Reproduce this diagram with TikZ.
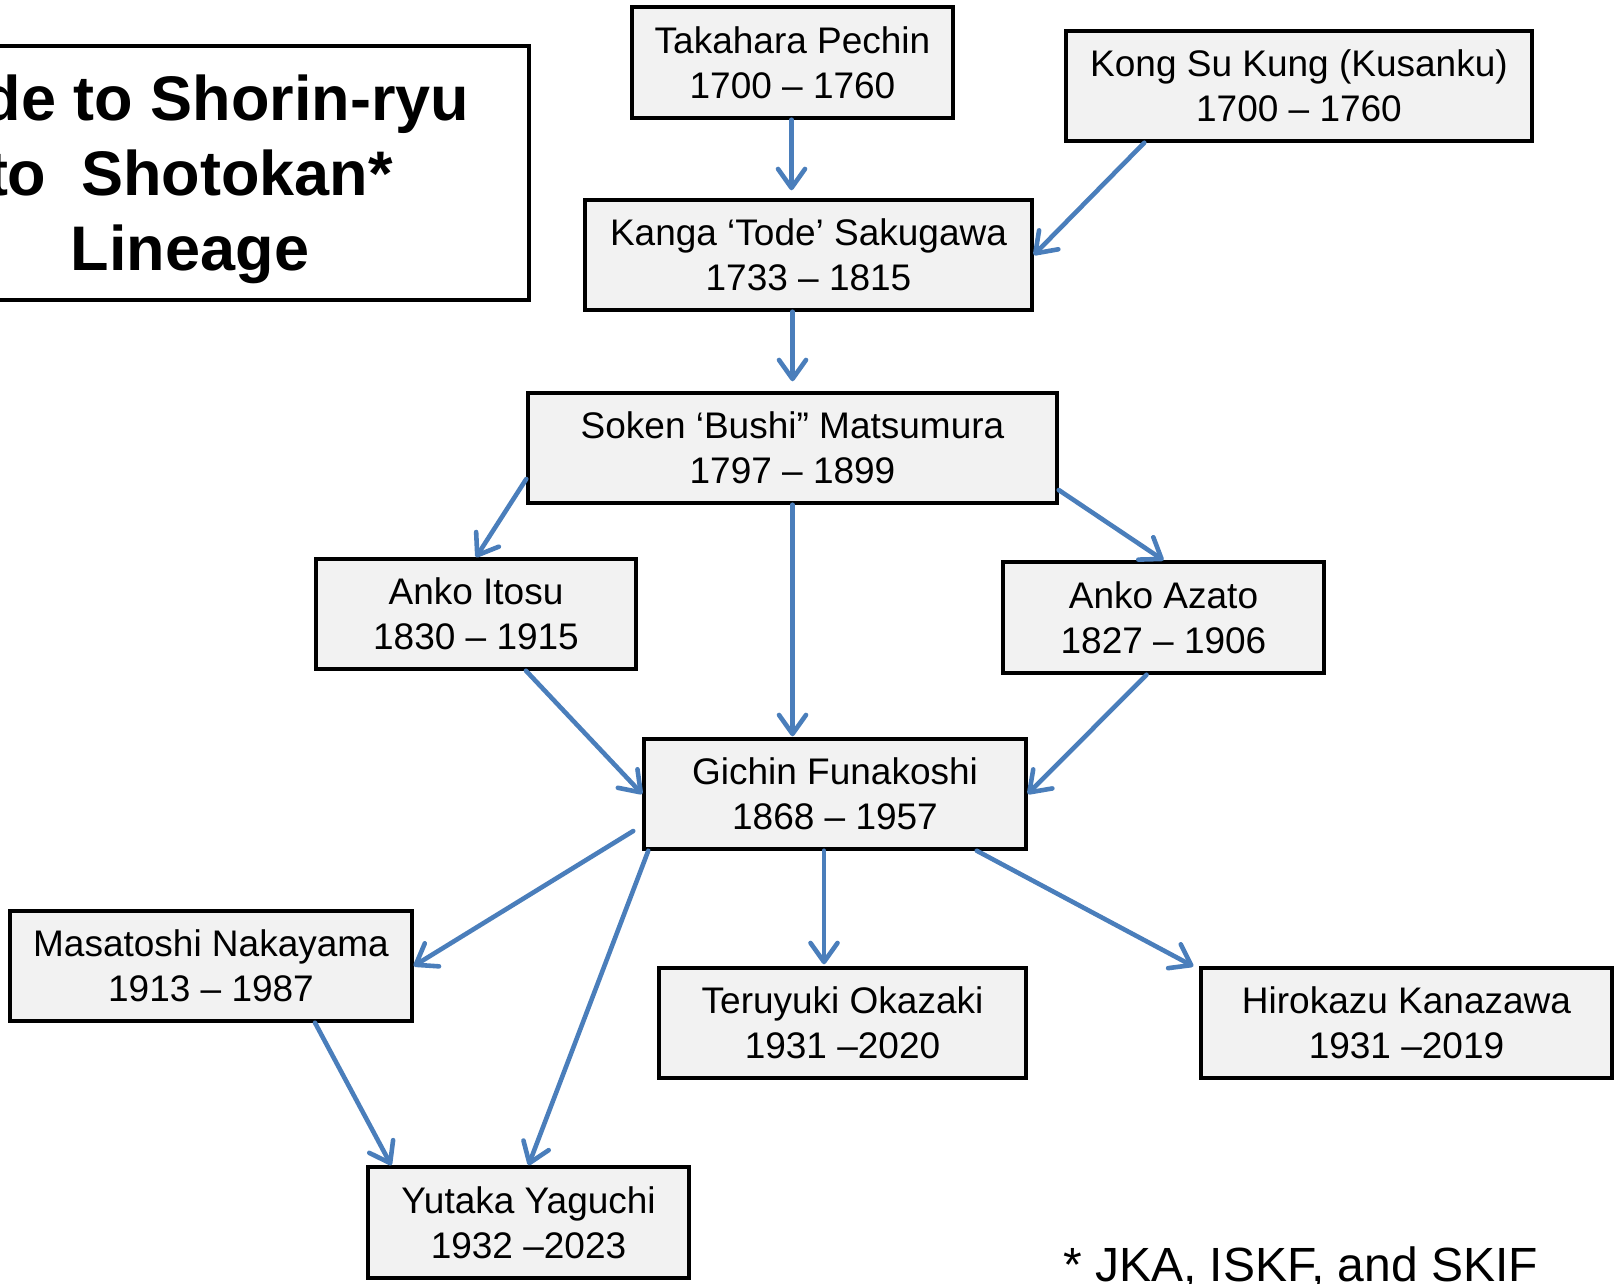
\documentclass[tikz,border=0pt]{standalone}
\usepackage{fontspec}
\setmainfont{Liberation Sans}
\usetikzlibrary{arrows.meta}
\definecolor{arrowblue}{HTML}{4A7EBB}
\definecolor{boxfill}{HTML}{F2F2F2}
\tikzset{
  person/.style={draw=black, fill=boxfill, line width=3.5pt, rectangle, inner sep=0pt,
    align=center, font=\fontsize{37}{45}\selectfont, minimum height=110pt},
  titlebox/.style={draw=black, fill=white, line width=4pt, rectangle, inner sep=0pt},
  titletext/.style={inner sep=0pt, align=center, font=\fontsize{63}{75}\selectfont\bfseries},
  link/.style={draw=arrowblue, line width=4.6pt, line cap=round,
    -{Straight Barb[length=19pt,width=27pt,round]}},
}
\begin{document}
\begin{tikzpicture}[x=1pt,y=-1pt]
\useasboundingbox (0,0) rectangle (1614,1283);

\node[titlebox, minimum width=678pt, minimum height=254pt] (title) at (190,173) {};
\node[titletext] (titletxt) at ([yshift=-6pt]title.center)
  {Tode to Shorin-ryu\\to\ \ Shotokan*\\Lineage};

\node[person, minimum width=321pt, minimum height=111pt] (tak) at (792.5,62.5) {Takahara Pechin\\1700 – 1760};
\node[person, minimum width=466pt] (kong) at (1299,86) {Kong Su Kung (Kusanku)\\1700 – 1760};
\node[person, minimum width=447pt] (sak) at (808.5,255) {Kanga ‘Tode’ Sakugawa\\1733 – 1815};
\node[person, minimum width=529pt] (mat) at (792.5,448) {Soken ‘Bushi” Matsumura\\1797 – 1899};
\node[person, minimum width=320pt] (ito) at (476,614) {Anko Itosu\\1830 – 1915};
\node[person, minimum width=321pt, minimum height=111pt] (aza) at (1163.5,617.5) {Anko Azato\\1827 – 1906};
\node[person, minimum width=382pt] (fun) at (835,794) {Gichin Funakoshi\\1868 – 1957};
\node[person, minimum width=402pt] (nak) at (211,966) {Masatoshi Nakayama\\1913 – 1987};
\node[person, minimum width=367pt] (oka) at (842.5,1023) {Teruyuki Okazaki\\1931 –2020};
\node[person, minimum width=411pt] (kan) at (1406.5,1023) {Hirokazu Kanazawa\\1931 –2019};
\node[person, minimum width=321pt, minimum height=111pt] (yag) at (528.5,1222.5) {Yutaka Yaguchi\\1932 –2023};

\node[anchor=base west, inner sep=0pt, font=\fontsize{48}{56}\selectfont] (note) at (1063,1281) {* JKA, ISKF, and SKIF};

\draw[link, shorten >=8pt] ([xshift=-1pt]tak.south) -- ([xshift=-1pt]tak.south |- sak.north);
\draw[link] ([xshift=80pt]kong.south west) -- (sak.east);
\draw[link, shorten >=10pt] (mat.north |- sak.south) -- (mat.north);
\draw[link] ([yshift=-31pt]mat.west) -- (ito.north);
\draw[link, shorten >=1pt] (mat.south) -- (mat.south |- fun.north);
\draw[link] ([yshift=-42pt]mat.east) -- (aza.north);
\draw[link] ([xshift=50pt]ito.south) -- (fun.west);
\draw[link] ([xshift=-17pt]aza.south) -- (fun.east);
\draw[link] ([xshift=-9pt,yshift=-37pt]fun.west) -- (nak.east);
\draw[link] ([xshift=6pt]fun.south west) -- (yag.north);
\draw[link, shorten >=2pt] ([xshift=-11pt]fun.south) -- ([xshift=-11pt]fun.south |- oka.north);
\draw[link] ([xshift=-51pt]fun.south east) -- ([xshift=-6pt]kan.north west);
\draw[link] ([xshift=104pt]nak.south) -- ([xshift=25pt]yag.north west);
\end{tikzpicture}
\end{document}
